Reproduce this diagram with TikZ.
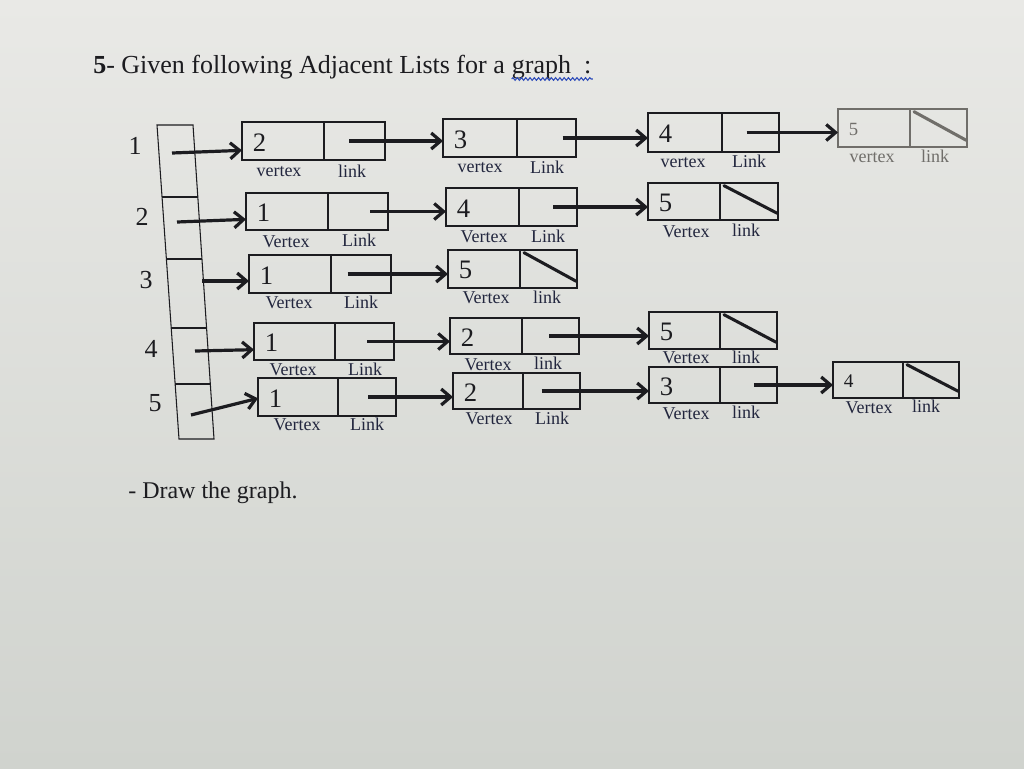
\documentclass[tikz,border=0pt]{standalone}
\usepackage{fontspec}
\setmainfont{Liberation Serif}
\usetikzlibrary{arrows.meta,decorations.pathmorphing,calc}
\definecolor{ink}{RGB}{28,28,32}
\definecolor{txt}{RGB}{34,38,62}
\definecolor{faint}{RGB}{112,110,106}
\definecolor{bgtop}{RGB}{233,233,230}
\definecolor{bgbot}{RGB}{208,211,206}
\definecolor{wavy}{RGB}{45,75,185}
% #1 name, #2 x left, #3 x divider, #4 x right, #5 y top, #6 y bottom, #7 value, #8 colour, #9 value font size (pt)
\newcommand\lnode[9]{%
  \node[cell,draw=#8,minimum width={(#3-#2)*0.75pt},minimum height={(#6-#5)*0.75pt}] (#1v) at ({(#2+#3)/2},{(#5+#6)/2}) {};
  \node[cell,draw=#8,minimum width={(#4-#3)*0.75pt},minimum height={(#6-#5)*0.75pt}] (#1l) at ({(#3+#4)/2},{(#5+#6)/2}) {};
  \node[val,text=#8,font=\fontsize{#9}{#9}\selectfont] (#1t) at ([xshift=8pt,yshift=-1pt]#1v.west) {#7};
}
\newcommand\slashcell[2]{%
  \draw[slash,draw=#2] ([xshift=3pt,yshift=-2pt]#1l.north west) -- ([xshift=-0.5pt,yshift=5pt]#1l.south east);
}
% link arrow: #1 from node, #2 x shift of start, #3 to node
\newcommand\linkarr[3]{%
  \coordinate (#1s) at ([xshift=#2]#1l.center);
  \draw[arr] (#1s) -- (#1s -| #3v.west);
}
\begin{document}
\begin{tikzpicture}[x=0.75pt,y=-0.75pt,
  cell/.style={line width=0.8pt, inner sep=0pt, outer sep=0pt},
  val/.style={anchor=west, inner sep=0pt},
  sub/.style={font=\fontsize{13.5}{14}\selectfont, text=txt, inner sep=0pt},
  subf/.style={sub, text=faint},
  idx/.style={font=\fontsize{19.5}{20}\selectfont, text=ink, inner sep=0pt},
  arr/.style={draw=ink, line width=2.4pt, -{Straight Barb[length=7pt,width=12pt]}},
  slash/.style={line width=2.3pt, line cap=round},
  arrayline/.style={draw=ink, line width=0.8pt}
]
\useasboundingbox (0,0) rectangle (1024,768);
\shade[top color=bgtop, bottom color=bgbot] (0,0) rectangle (1024,768);

% title
\node[anchor=base west, inner sep=0pt, text=ink, font=\fontsize{19.5}{20}\selectfont] (tt) at (93,73) {{\bfseries 5}- Given following Adjacent Lists for a};
\node[anchor=base west, inner sep=0pt, text=ink, font=\fontsize{19.5}{20}\selectfont] (gr) at ([xshift=4.9pt]tt.base east) {graph\ \ :};
\draw[wavy, line width=0.8pt, decorate, decoration={snake, amplitude=1pt, segment length=3.2pt}]
  ([yshift=-4.5pt]gr.base west) -- ([yshift=-4.5pt,xshift=1pt]gr.base east);

% array of heads
\coordinate (h0l) at (157,125); \coordinate (h0r) at (193,125);
\coordinate (h1l) at (162,197); \coordinate (h1r) at (198,197);
\coordinate (h2l) at (166,259); \coordinate (h2r) at (202,259);
\coordinate (h3l) at (171,328); \coordinate (h3r) at (207,328);
\coordinate (h4l) at (175,384); \coordinate (h4r) at (211,384);
\coordinate (h5l) at (179,439); \coordinate (h5r) at (214,439);
\draw[arrayline] (h0l) -- (h0r) -- (h5r) -- (h5l) -- cycle;
\draw[arrayline] (h1l) -- (h1r) (h2l) -- (h2r) (h3l) -- (h3r) (h4l) -- (h4r);

% index labels
\node[idx] (i1) at (135,146) {1};
\node[idx] (i2) at (142,217) {2};
\node[idx] (i3) at (146,280) {3};
\node[idx] (i4) at (151,349) {4};
\node[idx] (i5) at (155,403) {5};

% list nodes
\lnode{a1}{242}{324}{385}{122}{160}{2}{ink}{20}
\lnode{b1}{443}{517}{576}{119}{157}{3}{ink}{20}
\lnode{c1}{648}{722}{779}{113}{152}{4}{ink}{20}
\lnode{d1}{838}{910}{967}{109}{147}{5}{faint}{14}
\slashcell{d1}{faint}

\lnode{a2}{246}{328}{388}{193}{230}{1}{ink}{20}
\lnode{b2}{446}{519}{577}{188}{226}{4}{ink}{20}
\lnode{c2}{648}{720}{778}{183}{220}{5}{ink}{20}
\slashcell{c2}{ink}

\lnode{a3}{249}{331}{391}{255}{293}{1}{ink}{20}
\lnode{b3}{448}{520}{577}{250}{288}{5}{ink}{20}
\slashcell{b3}{ink}

\lnode{a4}{254}{335}{394}{323}{360}{1}{ink}{20}
\lnode{b4}{450}{522}{579}{318}{354}{2}{ink}{20}
\lnode{c4}{649}{720}{777}{312}{349}{5}{ink}{20}
\slashcell{c4}{ink}

\lnode{a5}{258}{338}{396}{378}{416}{1}{ink}{20}
\lnode{b5}{453}{523}{580}{373}{409}{2}{ink}{20}
\lnode{c5}{649}{720}{777}{367}{403}{3}{ink}{20}
\lnode{d5}{833}{903}{959}{362}{398}{4}{ink}{14.5}
\slashcell{d5}{ink}

% sub labels
\node[sub] (a1s1) at (279,172) {vertex}; \node[sub] (a1s2) at (352,171) {link};
\node[sub] (b1s1) at (480,168) {vertex}; \node[sub] (b1s2) at (547,167) {Link};
\node[sub] (c1s1) at (683,163) {vertex}; \node[sub] (c1s2) at (749,161) {Link};
\node[subf] (d1s1) at (872,158) {vertex}; \node[subf] (d1s2) at (935,156) {link};

\node[sub] (a2s1) at (286,242) {Vertex}; \node[sub] (a2s2) at (359,240) {Link};
\node[sub] (b2s1) at (484,237) {Vertex}; \node[sub] (b2s2) at (548,236) {Link};
\node[sub] (c2s1) at (686,232) {Vertex}; \node[sub] (c2s2) at (746,230) {link};

\node[sub] (a3s1) at (289,303) {Vertex}; \node[sub] (a3s2) at (361,302) {Link};
\node[sub] (b3s1) at (486,298) {Vertex}; \node[sub] (b3s2) at (547,297) {link};

\node[sub] (a4s1) at (293,370) {Vertex}; \node[sub] (a4s2) at (365,369) {Link};
\node[sub] (b4s1) at (488,365) {Vertex}; \node[sub] (b4s2) at (548,363) {link};
\node[sub] (c4s1) at (686,358) {Vertex}; \node[sub] (c4s2) at (746,357) {link};

\node[sub] (a5s1) at (297,425) {Vertex}; \node[sub] (a5s2) at (367,424) {Link};
\node[sub] (b5s1) at (489,419) {Vertex}; \node[sub] (b5s2) at (552,418) {Link};
\node[sub] (c5s1) at (686,414) {Vertex}; \node[sub] (c5s2) at (746,412) {link};
\node[sub] (d5s1) at (869,408) {Vertex}; \node[sub] (d5s2) at (926,406) {link};

% head pointers
\coordinate (p1) at (172,153);
\coordinate (p2) at (177,222);
\coordinate (p3) at (202,281);
\coordinate (p4) at (195,351);
\coordinate (p5) at (191,415);
\draw[arr] (p1) -- ([yshift=2pt]a1v.west |- p1);
\draw[arr] (p2) -- ([yshift=2pt]a2v.west |- p2);
\draw[arr] (p3) -- (a3v.west |- p3);
\draw[arr] (p4) -- ([yshift=1pt]a4v.west |- p4);
\draw[arr] (p5) -- ([yshift=-1pt]a5v.west);

% links
\linkarr{a1}{-4pt}{b1}
\linkarr{b1}{12pt}{c1}
\linkarr{c1}{-3pt}{d1}
\linkarr{a2}{9pt}{b2}
\linkarr{b2}{4pt}{c2}
\linkarr{a3}{-10pt}{b3}
\linkarr{a4}{2pt}{b4}
\linkarr{b4}{-1pt}{c4}
\linkarr{a5}{1pt}{b5}
\linkarr{b5}{-7.5pt}{c5}
\linkarr{c5}{4pt}{d5}

% question
\node[anchor=base west, inner sep=0pt, text=ink, font=\fontsize{18}{20}\selectfont] (q) at (128,498) {- Draw the graph.};
\end{tikzpicture}
\end{document}
